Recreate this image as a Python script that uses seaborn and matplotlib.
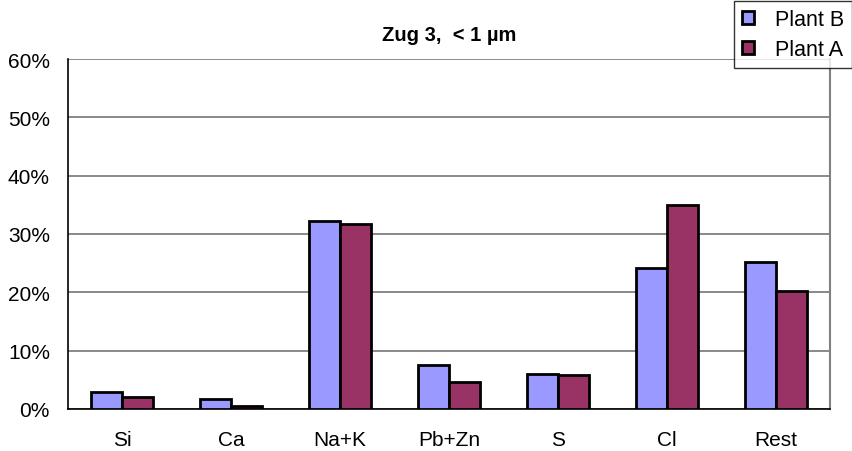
import matplotlib
matplotlib.use("Agg")
import matplotlib.pyplot as plt
import seaborn as sns
import pandas as pd
import numpy as np
from matplotlib.ticker import FuncFormatter, FixedLocator

categories = ["Si", "Ca", "Na+K", "Pb+Zn", "S", "Cl", "Rest"]
plant_b = [2.9, 1.7, 32.2, 7.5, 6.0, 24.1, 25.2]
plant_a = [2.0, 0.6, 31.7, 4.6, 5.8, 35.0, 20.3]
series = ["Plant B", "Plant A"]
yticks = [0, 10, 20, 30, 40, 50, 60]
title = "Zug 3,  < 1 µm"

df = pd.DataFrame({
    "cat": categories * 2,
    "val": plant_b + plant_a,
    "series": ["Plant B"] * len(categories) + ["Plant A"] * len(categories),
})

sns.set_theme(style="white")
plt.rcParams["font.family"] = ["Liberation Sans", "DejaVu Sans"]
plt.rcParams["text.color"] = "black"
plt.rcParams["xtick.color"] = "black"
plt.rcParams["ytick.color"] = "black"
plt.rcParams["axes.labelcolor"] = "black"

fig = plt.figure(figsize=(8.52, 4.52), dpi=100)
ax = fig.add_axes([68 / 852, 42 / 452, 762 / 852, 350 / 452])

sns.barplot(data=df, x="cat", y="val", hue="series", order=categories,
            hue_order=series, palette={"Plant B": "#9999FF", "Plant A": "#993366"},
            width=0.57, edgecolor="black", linewidth=2.0, saturation=1,
            errorbar=None, ax=ax, zorder=3)

ax.set_xlim(-0.5, len(categories) - 0.5)
ax.set_ylim(0, 60)
ax.yaxis.set_major_locator(FixedLocator(yticks))
ax.yaxis.set_major_formatter(FuncFormatter(lambda v, p: f"{v:.0f}%"))
ax.grid(axis="y", color="#808080", linewidth=1.3, zorder=0)
ax.set_axisbelow(True)
ax.set_xlabel("")
ax.set_ylabel("")

ax.spines["top"].set_visible(False)
ax.spines["right"].set_color("#808080")
ax.spines["right"].set_linewidth(1.5)
ax.spines["left"].set_color("black")
ax.spines["left"].set_linewidth(1.2)
ax.spines["bottom"].set_color("black")
ax.spines["bottom"].set_linewidth(1.2)

ax.tick_params(axis="y", which="major", direction="out", length=5, width=1,
               color="black", labelcolor="black", labelsize=15, pad=8)
ax.tick_params(axis="x", which="major", length=0, labelsize=15, pad=15,
               labelcolor="black")
ax.set_xticks(np.arange(-0.5, len(categories), 1.0), minor=True)
ax.tick_params(axis="x", which="minor", direction="out", length=6, width=1, color="black")

ax.set_title(title, fontsize=14.5, fontweight="bold", pad=14, color="black")

ax.get_legend().remove()
handles = [plt.Rectangle((0, 0), 1, 1, facecolor=c, edgecolor="black", linewidth=2)
           for c in ["#9999FF", "#993366"]]
leg = fig.legend(handles, series, loc="upper right", bbox_to_anchor=(1.0, 0.995),
                 fontsize=15.5, frameon=True, fancybox=False, handlelength=0.55,
                 handleheight=0.55, handletextpad=1.0, borderpad=0.35,
                 labelspacing=0.45, borderaxespad=0)
leg.get_frame().set_edgecolor("black")
leg.get_frame().set_linewidth(1)
for t in leg.get_texts():
    t.set_color("black")

fig.savefig("out.png", dpi=100)
